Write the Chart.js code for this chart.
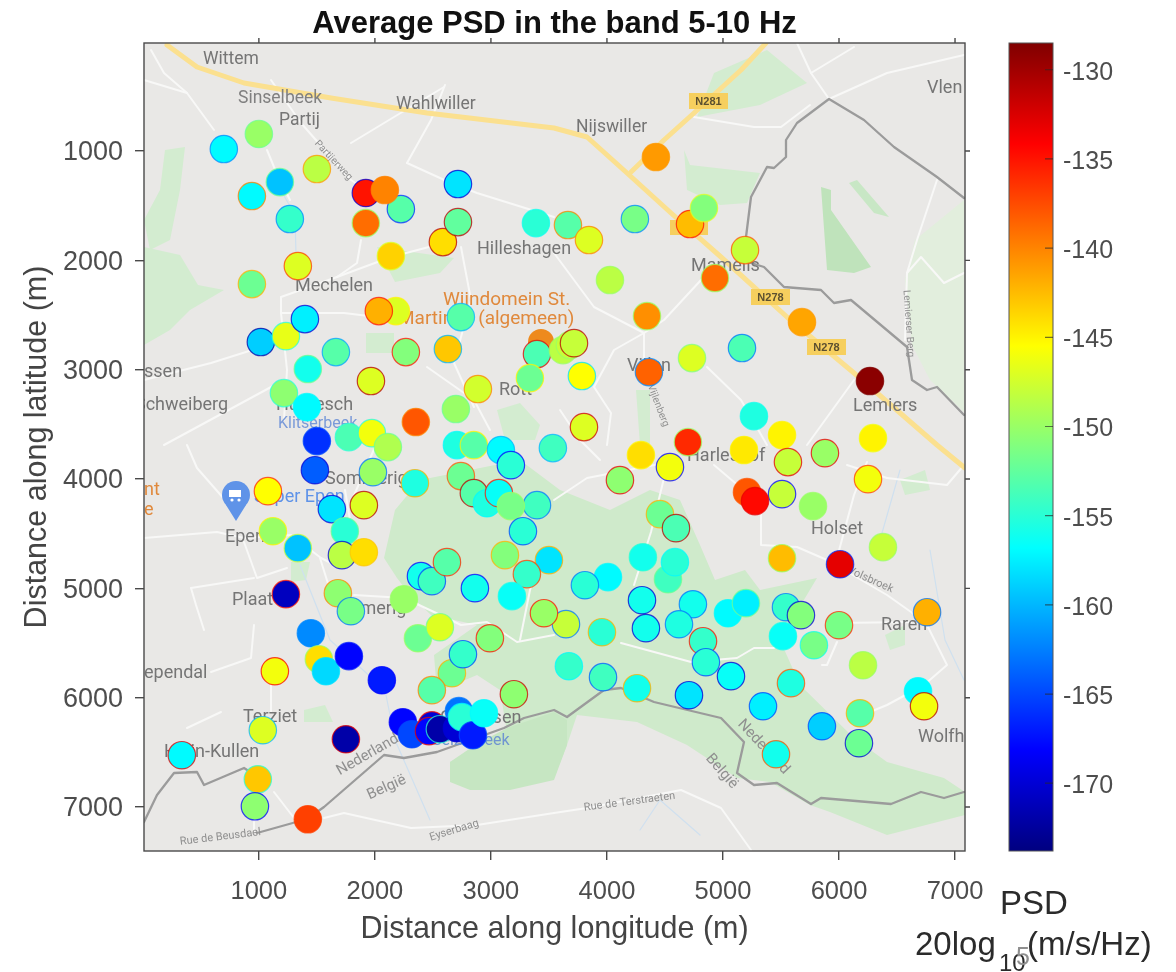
<!DOCTYPE html>
<html><head><meta charset="utf-8">
<style>html,body{margin:0;padding:0;background:#fff;width:1176px;height:972px;overflow:hidden}
canvas{position:absolute;top:0;filter:blur(0.4px)}#main{left:0}#cb{left:1000px}</style>
<script src="https://cdn.jsdelivr.net/npm/chart.js@4"></script></head>
<body><canvas id="main" width="1176" height="972"></canvas><canvas id="cb" width="176" height="972"></canvas>
<script>
const lon=[698,1000,1500,940,1181,1922,2224,2086,2716,1267,1922,2586,2716,2138,3388,1336,940,2181,2034,2741,1017,1233,1397,1664,2267,2629,3397,1422,1966,2888,3336,1216,1414,2698,2353,1500,1776,1974,2112,2707,2853,3086,3172,3534,4422,4241,3664,3845,4716,4836,5190,4931,4026,4345,5681,5164,4733,6267,3621,3681,3716,3784,4362,3802,5267,5509,6293,4698,4293,5181,5879,4543,4112,5560,6250,5207,5509,5276,5776,4457,4595,6379,5509,6009,4310,4526,4586,4009,3810,3500,4302,4336,4741,4621,5043,5198,5543,5672,6000,6759,3957,4828,4853,5069,5517,5784,3672,3966,4259,4707,5586,6207,5345,5853,6181,6172,5457,6681,6733,3647,3457,1483,1983,2345,2741,2853,2966,3069,3397,3172,3276,1078,1905,1629,1741,1121,1336,1716,1905,3121,3310,2397,2491,2621,2862,3181,1233,1681,1793,2250,2371,2560,2991,2664,2759,1448,1517,1578,1776,2060,1138,2491,3198,1034,1750,2241,2319,2491,2466,2560,2724,2707,2750,2845,2940,336,991,966,1422];
const lat=[982,844,1165,1412,1284,1384,1531,1357,1302,1622,1659,1833,1650,1961,1659,2052,2217,2464,2464,2519,2747,2693,2537,2839,2839,2811,2857,2994,3104,3177,3077,3214,3342,3360,3479,3653,3617,3580,3708,3690,3690,3735,3873,3717,1055,1622,1677,1814,1668,1522,1906,2162,2180,2510,2565,2802,2894,3104,2821,2775,2757,3058,3022,3525,3425,3598,3626,3662,3781,3735,3763,3891,4010,3845,4001,4120,4138,4202,4248,4321,4449,4623,4724,4779,4715,4916,4760,4897,4971,4742,5108,5364,5145,5328,5227,5135,5172,5245,5337,5218,5401,5483,5675,5803,5437,5520,5712,5812,5913,5977,5867,5703,6078,6261,6142,6416,6517,5941,6078,5327,5227,3919,3937,4038,3973,4129,4221,4129,4239,4248,4477,4111,4239,4275,4477,4477,4632,4696,4669,4696,4870,4888,4934,4760,4998,5071,5053,5044,5209,5099,5456,5355,5456,5776,5602,5410,5648,5758,5620,5840,5758,5931,5968,6297,6380,6224,6334,6252,6306,6288,6123,6279,6178,6343,6142,6526,6746,6993,7112];
const psd=[-157,-150,-148.5,-157,-159.5,-135,-153,-140,-158,-154.5,-139,-144,-152.5,-143.5,-155,-147,-152,-147,-142,-153,-159,-146.5,-157.5,-153,-151,-143,-153.5,-156,-147,-147.5,-152,-150.5,-157,-150,-138,-166,-153.5,-146,-149,-155.5,-153,-157,-155,-154,-141,-151.5,-153,-147,-142.5,-151,-148,-139,-148.5,-140.5,-141.5,-153.5,-147,-129,-148.5,-148,-148,-145.5,-138.5,-147,-155.5,-145,-145,-136,-144,-144.5,-150,-146,-150.5,-148,-146,-138,-148,-134.5,-150,-152,-153.5,-148,-142.5,-133,-156,-154,-155,-157,-155,-158,-156,-156,-156,-155.5,-157,-157.5,-154.5,-151,-151.5,-142,-155,-154.5,-155,-156.5,-156.5,-151.5,-154.5,-154,-156,-158,-155.5,-148.5,-157.5,-159,-153,-152,-156,-157,-146,-148,-150,-164,-150,-155.5,-152,-153,-155.5,-156.5,-154,-151.5,-155,-145.5,-147,-158,-155,-150,-159.5,-148.5,-144,-151,-154.5,-156,-154,-153,-156,-156.5,-171,-150.5,-151.5,-150,-152,-147,-151,-152,-154.5,-162,-144,-158.5,-168,-167,-146,-153,-150.5,-147,-172,-168,-165,-170,-168,-172,-163,-170,-155,-167,-156.5,-157,-143,-150.5,-137];
const edge=[-162,-152,-141,-140,-152,-170,-166,-140,-170,-162,-150,-131,-131,-147,-156,-137,-142,-145,-135,-160,-172,-155,-170,-161,-135,-160,-133,-152,-131,-140,-145,-155,-157,-152,-140,-165,-155,-155,-152,-157,-145,-160,-168,-160,-141,-162,-140,-140,-135,-147,-138,-150,-150,-150,-141,-163,-151,-128.5,-150,-150,-131,-158,-162,-132,-156,-145,-146,-150,-145,-145,-133,-168,-133,-133,-137,-138,-168,-133,-150,-142,-131,-150,-150,-166,-155,-152,-157,-157,-163,-142,-170,-170,-163,-163,-157,-152,-163,-170,-136,-163,-142,-135,-165,-170,-156,-156,-157,-164,-142,-170,-138,-150,-165,-165,-142,-170,-138,-157,-131,-163,-135,-170,-163,-142,-138,-131,-157,-135,-163,-150,-165,-136,-131,-170,-152,-145,-148,-170,-143,-142,-137,-168,-165,-136,-168,-156,-135,-140,-163,-150,-150,-152,-135,-142,-165,-162,-150,-158,-167,-168,-134,-140,-132,-160,-133,-168,-165,-135,-133,-155,-163,-170,-157,-165,-157,-133,-155,-168,-137];
const xTicks=[1000,2000,3000,4000,5000,6000,7000];
const yTicks=[1000,2000,3000,4000,5000,6000,7000];
const cbTicks=[-130,-135,-140,-145,-150,-155,-160,-165,-170];
const xRange=[10,7086], yRange=[12,7402], cRange=[-173.8,-128.5];

function clamp(v){return Math.max(0,Math.min(1,v));}
function jetParts(t){return [clamp(Math.min(4*t-1.5,-4*t+4.5)),clamp(Math.min(4*t-0.5,-4*t+3.5)),clamp(Math.min(4*t+0.5,-4*t+2.5))];}
function jet(v,alpha){const t=(v-cRange[0])/(cRange[1]-cRange[0]);const c=jetParts(t).map(x=>Math.round(x*255));return `rgba(${c[0]},${c[1]},${c[2]},${alpha===undefined?1:alpha})`;}

/* backdrop map, in map-tile units */
const T=(ctx,a,x,y)=>[a.left+(x-144)*a.width/821,a.top+(y-43)*a.height/808];
const greens=[
 ['#cfeacb',[[384,558],[395,510],[420,480],[470,470],[520,460],[560,490],[610,510],[650,490],[680,500],[700,545],[715,580],[745,570],[760,590],[817,578],[780,640],[800,685],[854,738],[887,762],[944,778],[965,792],[965,815],[887,835],[830,812],[810,805],[770,782],[737,778],[687,745],[637,722],[577,715],[567,745],[554,778],[510,782],[450,782],[450,762],[507,732],[500,690],[477,675],[437,692],[434,655],[477,625],[431,615],[410,595],[397,578]]],
 ['#c6e6c2',[[450,782],[450,762],[475,745],[507,728],[554,712],[567,720],[567,745],[554,780],[510,790],[470,790]]],
 ['#d3ecd0',[[165,150],[185,147],[180,190],[170,240],[150,250],[144,220],[160,190]]],
 ['#d3ecd0',[[144,247],[180,255],[198,285],[224,290],[190,310],[170,330],[144,345]]],
 ['#d3ecd0',[[697,117],[714,73],[767,50],[807,83],[760,105]]],
 ['#d3ecd0',[[684,150],[690,165],[760,173],[747,203],[720,205],[687,190]]],
 ['#d3ecd0',[[377,247],[454,258],[440,273],[395,282]]],
 ['#d3ecd0',[[366,333],[394,333],[394,353],[366,353]]],
 ['#d3ecd0',[[497,410],[520,403],[540,425],[535,440],[505,440]]],
 ['#d3ecd0',[[291,562],[310,562],[306,580],[291,582]]],
 ['#d3ecd0',[[304,710],[325,705],[333,722],[304,722]]],
 ['#bfe3bb',[[821,187],[831,190],[831,210],[871,267],[854,273],[827,270]]],
 ['#c8e7c5',[[849,183],[857,180],[889,217],[874,213]]],
 ['#e2eedd',[[915,240],[964,200],[964,412],[930,380],[912,345],[905,280]]],
 ['#d3ecd0',[[900,480],[925,470],[930,490],[905,495]]],
 ['#d3ecd0',[[885,635],[905,625],[905,645],[890,650]]],
 ['#d3ecd0',[[636,390],[650,390],[650,445],[640,445]]]
];
const roads=[
 [[151,50],[164,73],[187,93],[214,130]],[[144,80],[187,93]],[[271,80],[301,123],[351,180],[366,190]],
 [[267,150],[274,167],[290,200]],[[407,163],[451,183],[477,193],[554,217]],[[351,143],[394,117],[444,87]],
 [[407,163],[431,120],[445,85]],[[361,240],[357,263],[337,277],[281,297],[281,313],[287,370],[284,420]],
 [[337,277],[391,257],[444,243]],[[461,247],[471,300],[454,363],[474,407]],[[144,380],[211,363],[284,340]],
 [[164,445],[284,380]],[[281,313],[344,313],[401,320]],[[427,367],[474,400],[490,430]],
 [[797,43],[811,73],[829,99]],[[811,73],[854,47]],[[829,99],[887,73],[964,55]],[[694,117],[754,127],[781,127],[810,105]],
 [[701,280],[664,320],[644,333],[594,307],[554,253]],[[644,333],[644,373]],[[644,333],[614,350],[594,387],[611,413],[607,445]],
 [[707,367],[741,400],[767,445]],[[854,380],[807,445]],[[907,273],[921,257],[944,283],[964,273]],[[937,180],[917,240],[907,273],[905,340]],
 [[554,500],[587,478],[670,462]],[[664,478],[651,532],[634,585]],
 [[714,465],[734,482],[761,502],[761,545],[797,547],[827,560],[887,595],[911,612],[927,625],[947,665],[924,685],[887,705],[870,712]],
 [[837,623],[911,622]],[[621,643],[691,662],[737,658],[754,648],[774,648]],[[837,642],[827,665],[822,665]],
 [[554,813],[587,808],[681,790],[721,808],[751,850]],[[867,462],[854,495],[837,558]],[[887,478],[947,485],[964,465]],[[847,465],[887,478]],
 [[144,538],[217,532],[244,538],[291,535],[321,558],[341,568]],[[244,542],[257,578],[287,568]],[[191,588],[196,605],[204,630]],[[191,588],[254,578]],
 [[187,445],[197,468],[225,500]],[[254,625],[251,658],[211,672]],[[271,685],[271,712]],[[187,728],[221,712]],
 [[354,595],[404,598],[434,612],[461,625],[487,622],[517,642],[554,635]],[[274,792],[294,818]],
 [[324,818],[344,813],[411,828],[477,825],[554,813]],[[254,822],[254,832]],[[375,447],[352,500]],[[345,490],[350,520]],
 [[320,558],[330,590]],[[540,555],[530,590],[520,640]],[[600,460],[580,440],[560,410]]
];
const streams=[[[300,565],[330,640],[385,690],[395,740],[430,820]],[[275,180],[295,215],[296,255]],[[900,470],[880,540]],[[930,550],[945,640],[964,680]],[[640,830],[660,800],[700,835]]];
const highway=[[[167,45],[197,67],[244,83],[331,98],[427,113],[554,128],[587,137],[627,173],[671,213],[721,257],[787,317],[854,373],[937,445],[965,468]],[[766,43],[741,70],[694,113],[664,140],[631,172]]];
const border=[[[964,198],[937,177],[894,147],[864,120],[829,99],[797,123],[786,140],[786,157],[774,168],[767,167],[751,197],[746,237],[748,262],[764,267],[784,287],[821,290],[834,303],[851,300],[907,347],[912,380],[927,390],[937,387],[964,415]],
 [[144,822],[157,795],[174,773],[197,772],[204,785],[244,768],[255,775]],
 [[257,833],[307,819],[324,807],[384,755],[404,758],[437,752],[504,728],[524,718],[554,710],[567,717],[604,690],[621,688],[654,702],[721,718],[744,742],[737,773],[754,785],[777,783],[811,804],[821,798],[891,804],[921,792],[944,798],[964,792]]];
const shields=[['N281',689,93,39,16],['N278',751,289,39,16],['N278',807,339,39,16],['',670,220,38,15]];
const G='#757575',O='#e0893c',R='#8f8f8f';
const labels=[
 ['Wittem',203,60,17.5,0,G],['Sinselbeek',238,99,17.5,0,'#808080'],['Partij',279,121,17.5,0,G],['Wahlwiller',396,105,17.5,0,G],
 ['Nijswiller',576,128,17.5,0,G],['Hilleshagen',477,249,18,0,G],['Mechelen',295,286,18,0,G],['Vlen',927,88,18,0,G],
 ['Mamelis',691,266,18,0,G],['Lemiers',853,406,18,0,G],['Holset',811,529,18,0,G],['Raren',881,625,18,0,G],
 ['Wolfhaag',918,737,18,0,G],['Rott',499,390,18,0,G],['Vijlen',627,366,18,0,G],['Harleshof',687,456,18,0,G],
 ['Epen',225,537,18,0,G],['Plaat',232,600,18,0,G],['ependal',144,673,18,0,G],['Terziet',243,717,18,0,G],
 ['Heijn-Kullen',164,752,18,0,G],['ssen',144,372,18,0,G],['Schweiberg',135,405,18,0,G],['Camerig',339,609,18,0,G],
 ['Sommerig',325,479,18,0,G],['Hurpesch',276,405,18,0,G],['Klitserbeek',278,424,16,0,'#7a9ad8'],['Cottessen',440,718,18,0,G],
 ['Selzerbeek',432,741,16,0,'#6f95d0'],['Super Epen',254,497,18,0,'#5f93e8'],['Wijndomein St.',443,300,19,0,O],['Martinus (algemeen)',398,319,19,0,O],
 ['nt',144,490,18,0,O],['e',144,510,18,0,O],
 ['Nederland',338,772,15,-0.52,R],['België',368,796,15,-0.42,R],['Nederland',740,722,15,0.82,R],['België',708,756,15,0.85,R],
 ['Rue de Terstraeten',584,808,11,-0.13,R],['Rue de Beusdael',180,842,11,-0.12,R],['Eyserbaag',430,838,11,-0.3,R],
 ['Partijerweg',316,142,10,0.82,R],['Vijlenberg',650,385,10,1.2,R],['Lemierser Berg',906,290,10,1.5,R],['Volsbroek',848,570,11,0.42,R]
];

const mapPlugin={id:'map',beforeDatasetsDraw(chart){
 const c=chart.ctx,a=chart.chartArea,P=(x,y)=>T(c,a,x,y);
 c.save();c.beginPath();c.rect(a.left,a.top,a.width,a.height);c.clip();
 c.fillStyle='#e9e8e6';c.fillRect(a.left,a.top,a.width,a.height);
 c.filter='blur(0.4px)';
 const path=(pts)=>{c.beginPath();pts.forEach((p,i)=>{const q=P(p[0],p[1]);i?c.lineTo(q[0],q[1]):c.moveTo(q[0],q[1]);});};
 greens.forEach(g=>{c.fillStyle=g[0];path(g[1]);c.closePath();c.fill();});
 c.lineJoin='round';c.lineCap='round';
 c.strokeStyle='#cfe0ef';c.lineWidth=1.2;streams.forEach(s=>{path(s);c.stroke();});
 c.strokeStyle='#f8f8f7';c.lineWidth=2;roads.forEach(s=>{path(s);c.stroke();});
 c.strokeStyle='#fbe08f';c.lineWidth=5;highway.forEach(s=>{path(s);c.stroke();});
 c.strokeStyle='#9b9b9b';c.lineWidth=2.3;border.forEach(s=>{path(s);c.stroke();});
 c.textBaseline='middle';c.textAlign='left';
 shields.forEach(s=>{const q=P(s[1],s[2]);c.fillStyle='#f6cf5e';c.fillRect(q[0],q[1],s[3],s[4]);c.fillStyle='#5c5030';c.font='bold 11px "Liberation Sans"';c.textAlign='center';c.fillText(s[0],q[0]+s[3]/2,q[1]+s[4]/2+0.5);c.textAlign='left';});
 labels.forEach(l=>{const q=P(l[1],l[2]);c.save();c.translate(q[0],q[1]);c.rotate(l[4]);c.fillStyle=l[5];c.font=l[3]+'px Roboto';c.fillText(l[0],0,0);c.restore();});
 let q=P(236,497);c.fillStyle='#5f93e8';c.beginPath();c.arc(q[0],q[1]-2,14,0,Math.PI*2);c.fill();
 c.beginPath();c.moveTo(q[0]-10,q[1]+8);c.lineTo(q[0],q[1]+24);c.lineTo(q[0]+10,q[1]+8);c.fill();
 c.fillStyle='#fff';c.fillRect(q[0]-7,q[1]-7,12,7);c.beginPath();c.arc(q[0]-4,q[1]+3,1.6,0,7);c.arc(q[0]+3,q[1]+3,1.6,0,7);c.fill();
 q=P(541,342);c.fillStyle='#ee8a1d';c.beginPath();c.arc(q[0],q[1],13,0,7);c.fill();
 c.restore();
},afterDraw(chart){
 const c=chart.ctx,a=chart.chartArea,xs=chart.scales.x,ys=chart.scales.y;
 c.save();c.strokeStyle='#4a4a4a';c.lineWidth=1.4;c.strokeRect(a.left,a.top,a.width,a.height);
 c.beginPath();
 xTicks.forEach(v=>{const p=xs.getPixelForValue(v);c.moveTo(p,a.top);c.lineTo(p,a.top-5);});
 yTicks.forEach(v=>{const p=ys.getPixelForValue(v);c.moveTo(a.right,p);c.lineTo(a.right+5,p);});
 c.stroke();
 c.fillStyle='#2b2b2b';c.textAlign='left';c.textBaseline='alphabetic';
 c.font='33px "Liberation Sans"';c.fillText('PSD',1000,914);c.fillText('20log',915,955);c.fillText('(m/s/Hz)',1027,955);
 c.font='24px "Liberation Sans"';c.fillText('10',999,971);
 c.fillStyle='#8f8f8f';c.font='25px "Liberation Sans"';c.fillText('5',1016,965);
 c.restore();
}};

new Chart(document.getElementById('main'),{
 type:'scatter',
 data:{datasets:[{data:lon.map((x,i)=>({x,y:lat[i]})),pointRadius:13.7,pointHoverRadius:13.7,
  pointBackgroundColor:psd.map(v=>jet(v)),pointBorderColor:edge.map(v=>jet(v,0.75)),pointBorderWidth:1.2}]},
 plugins:[mapPlugin],
 options:{responsive:false,animation:false,events:[],
  layout:{padding:{left:0,right:211,top:0,bottom:0}},
  plugins:{legend:{display:false},tooltip:{enabled:false},
   title:{display:true,text:'Average PSD in the band 5-10 Hz',color:'#111',fullSize:false,
    font:{family:'"Liberation Sans"',size:31,weight:'bold',lineHeight:'37px'},padding:{top:6,bottom:0}}},
  scales:{
   x:{type:'linear',min:xRange[0],max:xRange[1],
    afterBuildTicks:s=>{s.ticks=xTicks.map(value=>({value}));},
    afterFit:s=>{s.height=121;},
    grid:{drawOnChartArea:false,drawTicks:true,tickLength:9,color:'#4a4a4a',lineWidth:1.4},border:{display:false},
    ticks:{color:'#4d4d4d',font:{family:'"Liberation Sans"',size:25.5},padding:17,maxRotation:0,autoSkip:false,callback:v=>String(v)},
    title:{display:true,text:'Distance along longitude (m)',color:'#444',font:{family:'"Liberation Sans"',size:30.5},padding:{top:0,bottom:24}}},
   y:{type:'linear',reverse:true,min:yRange[0],max:yRange[1],
    afterBuildTicks:s=>{s.ticks=yTicks.map(value=>({value}));},
    afterFit:s=>{s.width=144;},
    grid:{drawOnChartArea:false,drawTicks:true,tickLength:9,color:'#4a4a4a',lineWidth:1.4},border:{display:false},
    ticks:{color:'#4d4d4d',font:{family:'"Liberation Sans"',size:27},padding:12,labelOffset:2,autoSkip:false,callback:v=>String(v)},
    title:{display:true,text:'Distance along latitude (m)',color:'#444',font:{family:'"Liberation Sans"',size:30.5},padding:{top:19,bottom:0}}}
  }}
});

const cbFrame={id:'cbFrame',afterDraw(chart){
 const c=chart.ctx,a=chart.chartArea,s=chart.scales.y;
 c.save();c.strokeStyle='#555';c.lineWidth=1;c.strokeRect(a.left,a.top,a.width,a.height);
 c.strokeStyle='rgba(40,40,40,0.65)';c.lineWidth=1.2;c.beginPath();
 cbTicks.forEach(v=>{const p=s.getPixelForValue(v);c.moveTo(a.right,p);c.lineTo(a.right-8,p);});
 c.stroke();c.restore();
}};
new Chart(document.getElementById('cb'),{
 type:'bar',
 data:{labels:['PSD'],datasets:[{data:[cRange],barPercentage:1,categoryPercentage:1,borderWidth:0,
  backgroundColor(ctx){const a=ctx.chart.chartArea;if(!a)return '#000';
   const g=ctx.chart.ctx.createLinearGradient(0,a.bottom,0,a.top);
   for(let i=0;i<=32;i++){const t=i/32,c=jetParts(t).map(x=>Math.round(x*255));g.addColorStop(t,`rgb(${c[0]},${c[1]},${c[2]})`);}
   return g;}}]},
 plugins:[cbFrame],
 options:{responsive:false,animation:false,events:[],
  layout:{padding:{left:9,right:0,top:43,bottom:121}},
  plugins:{legend:{display:false},tooltip:{enabled:false}},
  scales:{
   x:{display:false,offset:true},
   y:{position:'right',min:cRange[0],max:cRange[1],
    afterBuildTicks:s=>{s.ticks=cbTicks.map(value=>({value}));},
    afterFit:s=>{s.width=123;},
    grid:{drawOnChartArea:false,drawTicks:false},border:{display:false},
    ticks:{color:'#4d4d4d',font:{family:'"Liberation Sans"',size:25},padding:10,labelOffset:3,autoSkip:false,callback:v=>String(v)}}
  }}
});
</script></body></html>
